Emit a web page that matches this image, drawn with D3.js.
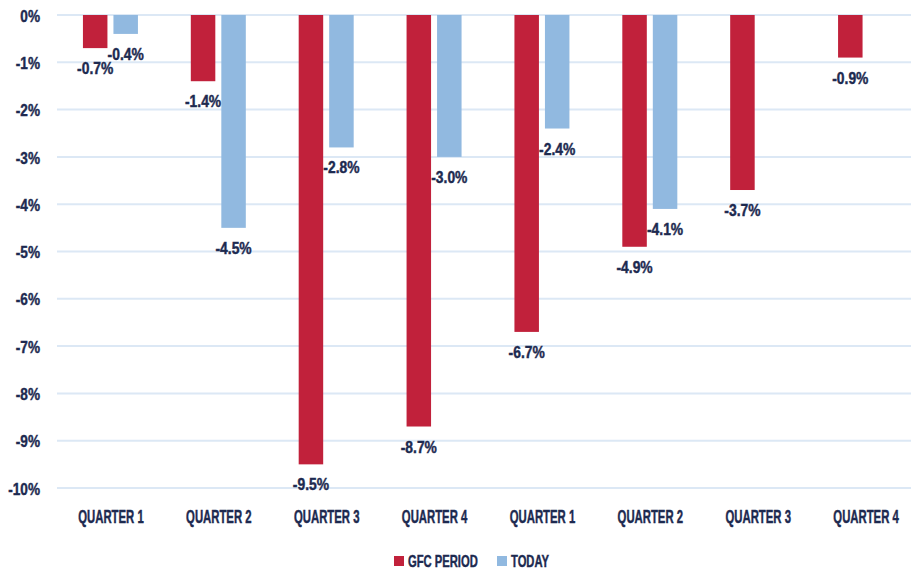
<!DOCTYPE html>
<html>
<head>
<meta charset="utf-8">
<script src="https://cdn.jsdelivr.net/npm/d3@7"></script>
<style>
  html, body { margin: 0; padding: 0; background: #ffffff; }
  svg { display: block; }
  text { font-family: "Liberation Sans", Arial, sans-serif; font-weight: bold; fill: #1d2a50; stroke: #1d2a50; stroke-width: 0.45px; }
</style>
</head>
<body>
<svg id="chart" width="911" height="571"></svg>
<script>
const categories = ["QUARTER 1", "QUARTER 2", "QUARTER 3", "QUARTER 4", "QUARTER 1 ", "QUARTER 2 ", "QUARTER 3 ", "QUARTER 4 "];
const seriesNames = ["GFC PERIOD", "TODAY"];
const gfcValues = [-0.7, -1.4, -9.5, -8.7, -6.7, -4.9, -3.7, -0.9];
const todayValues = [-0.4, -4.5, -2.8, -3.0, -2.4, -4.1, null, null];
const yTicks = [0, -1, -2, -3, -4, -5, -6, -7, -8, -9, -10];
const colors = ["#c1213b", "#91b9e0"];

const svg = d3.select("#chart");
const W = 911, H = 571;
const FONT = "'Liberation Sans', Arial, sans-serif";

const x = d3.scaleBand().domain(categories).range([57, 920]).paddingInner(0).paddingOuter(0);
const xSub = d3.scaleBand().domain(seriesNames).range([-28, 27]).paddingInner(0.197);
const y = d3.scaleLinear().domain([-10, 0]).range([488, 15]);

// gridlines
svg.append("g").selectAll("line").data(yTicks).join("line")
  .attr("x1", 57).attr("x2", W)
  .attr("y1", d => y(d)).attr("y2", d => y(d))
  .attr("stroke", "#dce8f5").attr("stroke-width", 2);

// y axis labels
const yAxis = d3.axisLeft(y).tickValues(yTicks).tickSize(0).tickPadding(0)
  .tickFormat(d => String(d).replace("\u2212", "-") + "%");
const yg = svg.append("g").attr("transform", "translate(40,0)").call(yAxis);
yg.select(".domain").remove();
yg.selectAll("text").attr("font-size", 17).attr("fill", "#1d2a50")
  .attr("x", 0).attr("dy", "0.36em")
  .attr("transform", "scale(0.8,1)")
  .style("font-family", FONT).style("font-weight", "bold");

// x axis labels
const xAxis = d3.axisBottom(x).tickSize(0).tickPadding(0).tickFormat(d => d.trim());
const xg = svg.append("g").attr("transform", "translate(0,523)").call(xAxis);
xg.select(".domain").remove();
xg.selectAll("text").attr("font-size", 18).attr("fill", "#1d2a50").attr("y", 0).attr("dy", 0)
  .attr("transform", "scale(0.63,1)")
  .style("font-family", FONT).style("font-weight", "bold");

// bars
const rows = [];
categories.forEach((c, i) => {
  [gfcValues[i], todayValues[i]].forEach((v, s) => {
    if (v !== null && v !== undefined) rows.push({ cat: c, series: seriesNames[s], value: v, s });
  });
});

svg.append("g").selectAll("rect").data(rows).join("rect")
  .attr("x", d => x(d.cat) + x.bandwidth() / 2 + xSub(d.series))
  .attr("width", xSub.bandwidth())
  .attr("y", y(0))
  .attr("height", d => y(d.value) - y(0))
  .attr("fill", d => colors[d.s]);

// value labels
svg.append("g").selectAll("text").data(rows).join("text")
  .attr("transform", d => `translate(${x(d.cat) + x.bandwidth() / 2 + xSub(d.series) + xSub.bandwidth() / 2},${y(d.value) + 26}) scale(0.84,1)`)
  .attr("text-anchor", "middle")
  .attr("font-size", 16.5)
  .text(d => d.value.toFixed(1) + "%");

// legend
const legend = svg.append("g").attr("transform", "translate(394,556)");
const items = [{ name: "GFC PERIOD", x: 0 }, { name: "TODAY", x: 103 }];
items.forEach((it, i) => {
  legend.append("rect").attr("x", it.x).attr("y", 0).attr("width", 10).attr("height", 10).attr("fill", colors[i]);
  legend.append("text").attr("transform", `translate(${it.x + 14},10.5) scale(0.66,1)`).attr("font-size", 17).text(it.name);
});
</script>
</body>
</html>
